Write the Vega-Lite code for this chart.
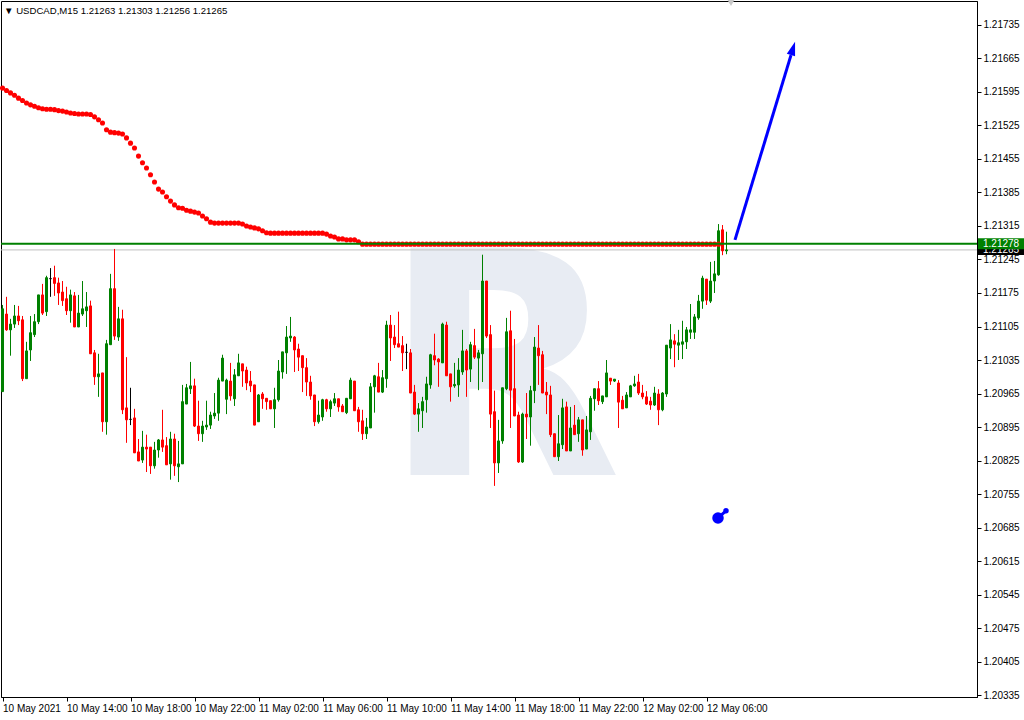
{
"$schema":"https://vega.github.io/schema/vega-lite/v6.json",
"width":976,"height":696,
"autosize":"none",
"padding":{"left":1,"top":1,"right":47,"bottom":23},
"background":"white",
"title":{"text":"▼ USDCAD,M15  1.21263 1.21303 1.21256 1.21265","anchor":"start","frame":"group","offset":-24,"baseline":"alphabetic","font":"Liberation Sans","fontSize":9.6,"fontWeight":"normal","color":"black","dx":3},
"config":{"view":{"stroke":"black","strokeWidth":1},"axis":{"grid":false,"domainColor":"black","tickColor":"black","labelColor":"black","labelFont":"Liberation Sans","labelFontSize":10,"title":null,"tickSize":4,"labelPadding":2,"labelOverlap":false,"labelFlush":false}},
"datasets":{
"candles":[
{"t":"2021-05-10T10:00Z","o":1.20969,"h":1.2115,"l":1.20969,"c":1.21142,"s":1.21603},
{"t":"2021-05-10T10:15Z","o":1.21131,"h":1.21167,"l":1.21096,"c":1.21098,"s":1.21598},
{"t":"2021-05-10T10:30Z","o":1.21098,"h":1.21121,"l":1.21044,"c":1.2111,"s":1.21593},
{"t":"2021-05-10T10:45Z","o":1.2111,"h":1.2115,"l":1.21102,"c":1.21127,"s":1.21588},
{"t":"2021-05-10T11:00Z","o":1.21127,"h":1.21148,"l":1.21108,"c":1.21117,"s":1.21582},
{"t":"2021-05-10T11:15Z","o":1.21119,"h":1.21127,"l":1.20991,"c":1.20996,"s":1.21577},
{"t":"2021-05-10T11:30Z","o":1.20996,"h":1.21073,"l":1.20996,"c":1.21054,"s":1.21572},
{"t":"2021-05-10T11:45Z","o":1.21056,"h":1.21127,"l":1.21033,"c":1.21092,"s":1.21568},
{"t":"2021-05-10T12:00Z","o":1.21088,"h":1.21131,"l":1.21083,"c":1.21115,"s":1.21565},
{"t":"2021-05-10T12:15Z","o":1.21115,"h":1.21171,"l":1.2111,"c":1.21171,"s":1.21562},
{"t":"2021-05-10T12:30Z","o":1.21171,"h":1.21194,"l":1.21129,"c":1.21133,"s":1.2156},
{"t":"2021-05-10T12:45Z","o":1.21136,"h":1.21211,"l":1.21127,"c":1.21207,"s":1.21559},
{"t":"2021-05-10T13:00Z","o":1.21205,"h":1.21227,"l":1.21167,"c":1.21205,"s":1.21559},
{"t":"2021-05-10T13:15Z","o":1.21207,"h":1.21232,"l":1.21169,"c":1.21195,"s":1.21558},
{"t":"2021-05-10T13:30Z","o":1.21196,"h":1.21207,"l":1.2115,"c":1.21175,"s":1.21556},
{"t":"2021-05-10T13:45Z","o":1.21177,"h":1.212,"l":1.21148,"c":1.21159,"s":1.21555},
{"t":"2021-05-10T14:00Z","o":1.21163,"h":1.21188,"l":1.21129,"c":1.21138,"s":1.21553},
{"t":"2021-05-10T14:15Z","o":1.21138,"h":1.21182,"l":1.21113,"c":1.21171,"s":1.21551},
{"t":"2021-05-10T14:30Z","o":1.21169,"h":1.21177,"l":1.21104,"c":1.21104,"s":1.2155},
{"t":"2021-05-10T14:45Z","o":1.21104,"h":1.21171,"l":1.21104,"c":1.21133,"s":1.21549},
{"t":"2021-05-10T15:00Z","o":1.21131,"h":1.212,"l":1.21127,"c":1.21142,"s":1.21549},
{"t":"2021-05-10T15:15Z","o":1.21138,"h":1.21177,"l":1.21104,"c":1.21146,"s":1.21549},
{"t":"2021-05-10T15:30Z","o":1.21148,"h":1.21159,"l":1.21048,"c":1.21048,"s":1.21548},
{"t":"2021-05-10T15:45Z","o":1.2105,"h":1.21056,"l":1.20983,"c":1.21,"s":1.21543},
{"t":"2021-05-10T16:00Z","o":1.21,"h":1.21048,"l":1.20958,"c":1.21006,"s":1.21537},
{"t":"2021-05-10T16:15Z","o":1.21008,"h":1.21008,"l":1.20885,"c":1.20906,"s":1.2153},
{"t":"2021-05-10T16:30Z","o":1.20906,"h":1.21077,"l":1.20879,"c":1.21069,"s":1.21516},
{"t":"2021-05-10T16:45Z","o":1.21067,"h":1.21215,"l":1.21067,"c":1.21184,"s":1.21511},
{"t":"2021-05-10T17:00Z","o":1.21184,"h":1.21267,"l":1.21077,"c":1.21085,"s":1.2151},
{"t":"2021-05-10T17:15Z","o":1.21083,"h":1.21146,"l":1.21075,"c":1.21121,"s":1.21509},
{"t":"2021-05-10T17:30Z","o":1.21121,"h":1.2114,"l":1.20922,"c":1.20931,"s":1.21507},
{"t":"2021-05-10T17:45Z","o":1.20935,"h":1.21041,"l":1.20862,"c":1.2091,"s":1.21499},
{"t":"2021-05-10T18:00Z","o":1.20911,"h":1.20977,"l":1.20899,"c":1.20911,"s":1.21488},
{"t":"2021-05-10T18:15Z","o":1.20914,"h":1.20933,"l":1.20841,"c":1.20841,"s":1.21478},
{"t":"2021-05-10T18:30Z","o":1.20843,"h":1.2087,"l":1.20824,"c":1.20824,"s":1.21461},
{"t":"2021-05-10T18:45Z","o":1.20826,"h":1.20887,"l":1.2082,"c":1.20853,"s":1.21447},
{"t":"2021-05-10T19:00Z","o":1.20853,"h":1.20879,"l":1.20801,"c":1.20849,"s":1.21436},
{"t":"2021-05-10T19:15Z","o":1.20853,"h":1.20853,"l":1.20797,"c":1.20814,"s":1.21422},
{"t":"2021-05-10T19:30Z","o":1.20814,"h":1.20864,"l":1.20808,"c":1.20847,"s":1.21407},
{"t":"2021-05-10T19:45Z","o":1.20847,"h":1.2087,"l":1.20831,"c":1.20868,"s":1.21392},
{"t":"2021-05-10T20:00Z","o":1.20868,"h":1.20931,"l":1.20843,"c":1.20853,"s":1.21386},
{"t":"2021-05-10T20:15Z","o":1.20856,"h":1.20874,"l":1.20816,"c":1.20816,"s":1.21376},
{"t":"2021-05-10T20:30Z","o":1.20818,"h":1.20885,"l":1.20785,"c":1.2087,"s":1.21367},
{"t":"2021-05-10T20:45Z","o":1.2087,"h":1.20881,"l":1.20793,"c":1.20814,"s":1.21359},
{"t":"2021-05-10T21:00Z","o":1.20812,"h":1.20866,"l":1.2078,"c":1.20818,"s":1.21353},
{"t":"2021-05-10T21:15Z","o":1.20818,"h":1.20983,"l":1.20818,"c":1.20948,"s":1.21352},
{"t":"2021-05-10T21:30Z","o":1.20943,"h":1.20985,"l":1.20943,"c":1.20977,"s":1.21348},
{"t":"2021-05-10T21:45Z","o":1.20975,"h":1.21031,"l":1.20964,"c":1.20981,"s":1.21346},
{"t":"2021-05-10T22:00Z","o":1.20981,"h":1.20996,"l":1.20895,"c":1.20897,"s":1.21344},
{"t":"2021-05-10T22:15Z","o":1.20897,"h":1.2095,"l":1.20866,"c":1.20881,"s":1.21342},
{"t":"2021-05-10T22:30Z","o":1.20881,"h":1.20908,"l":1.20864,"c":1.20897,"s":1.21336},
{"t":"2021-05-10T22:45Z","o":1.20895,"h":1.2095,"l":1.20889,"c":1.20899,"s":1.2133},
{"t":"2021-05-10T23:00Z","o":1.20899,"h":1.20927,"l":1.20891,"c":1.2092,"s":1.21323},
{"t":"2021-05-10T23:15Z","o":1.20918,"h":1.20966,"l":1.20912,"c":1.20924,"s":1.21321},
{"t":"2021-05-10T23:30Z","o":1.20924,"h":1.20998,"l":1.20908,"c":1.20993,"s":1.21321},
{"t":"2021-05-10T23:45Z","o":1.20991,"h":1.21046,"l":1.20991,"c":1.21039,"s":1.21321},
{"t":"2021-05-11T00:00Z","o":1.20953,"h":1.20996,"l":1.20922,"c":1.20993,"s":1.21321},
{"t":"2021-05-11T00:15Z","o":1.20991,"h":1.21029,"l":1.2095,"c":1.2096,"s":1.21321},
{"t":"2021-05-11T00:30Z","o":1.20954,"h":1.21016,"l":1.20939,"c":1.21004,"s":1.21321},
{"t":"2021-05-11T00:45Z","o":1.21002,"h":1.21048,"l":1.21002,"c":1.21029,"s":1.21321},
{"t":"2021-05-11T01:00Z","o":1.21027,"h":1.21027,"l":1.20979,"c":1.21012,"s":1.21319},
{"t":"2021-05-11T01:15Z","o":1.21014,"h":1.21021,"l":1.20972,"c":1.20987,"s":1.21315},
{"t":"2021-05-11T01:30Z","o":1.20991,"h":1.21012,"l":1.20968,"c":1.20981,"s":1.21313},
{"t":"2021-05-11T01:45Z","o":1.20983,"h":1.20983,"l":1.20899,"c":1.20899,"s":1.21311},
{"t":"2021-05-11T02:00Z","o":1.20906,"h":1.20964,"l":1.20906,"c":1.20962,"s":1.21309},
{"t":"2021-05-11T02:15Z","o":1.20964,"h":1.20968,"l":1.20933,"c":1.20954,"s":1.21305},
{"t":"2021-05-11T02:30Z","o":1.20955,"h":1.20955,"l":1.20931,"c":1.20948,"s":1.21301},
{"t":"2021-05-11T02:45Z","o":1.2095,"h":1.2095,"l":1.20933,"c":1.20933,"s":1.213},
{"t":"2021-05-11T03:00Z","o":1.20933,"h":1.20977,"l":1.20893,"c":1.20952,"s":1.213},
{"t":"2021-05-11T03:15Z","o":1.20952,"h":1.21035,"l":1.20948,"c":1.21012,"s":1.213},
{"t":"2021-05-11T03:30Z","o":1.2101,"h":1.21052,"l":1.20996,"c":1.21052,"s":1.213},
{"t":"2021-05-11T03:45Z","o":1.2105,"h":1.21106,"l":1.21006,"c":1.21083,"s":1.213},
{"t":"2021-05-11T04:00Z","o":1.21081,"h":1.21125,"l":1.21073,"c":1.21085,"s":1.213},
{"t":"2021-05-11T04:15Z","o":1.21083,"h":1.21085,"l":1.2101,"c":1.21056,"s":1.213},
{"t":"2021-05-11T04:30Z","o":1.21058,"h":1.21069,"l":1.21012,"c":1.21041,"s":1.213},
{"t":"2021-05-11T04:45Z","o":1.21044,"h":1.21044,"l":1.20968,"c":1.21019,"s":1.213},
{"t":"2021-05-11T05:00Z","o":1.21019,"h":1.21039,"l":1.2096,"c":1.20989,"s":1.213},
{"t":"2021-05-11T05:15Z","o":1.20989,"h":1.21002,"l":1.20952,"c":1.2096,"s":1.213},
{"t":"2021-05-11T05:30Z","o":1.20962,"h":1.20962,"l":1.20897,"c":1.20906,"s":1.213},
{"t":"2021-05-11T05:45Z","o":1.20906,"h":1.2095,"l":1.20902,"c":1.2092,"s":1.213},
{"t":"2021-05-11T06:00Z","o":1.20916,"h":1.20954,"l":1.20908,"c":1.20952,"s":1.213},
{"t":"2021-05-11T06:15Z","o":1.20952,"h":1.20954,"l":1.20927,"c":1.20933,"s":1.21298},
{"t":"2021-05-11T06:30Z","o":1.20933,"h":1.20952,"l":1.20916,"c":1.20948,"s":1.21294},
{"t":"2021-05-11T06:45Z","o":1.20945,"h":1.20966,"l":1.20939,"c":1.20954,"s":1.21292},
{"t":"2021-05-11T07:00Z","o":1.20954,"h":1.20954,"l":1.20927,"c":1.20937,"s":1.21288},
{"t":"2021-05-11T07:15Z","o":1.20939,"h":1.20943,"l":1.20927,"c":1.20927,"s":1.21288},
{"t":"2021-05-11T07:30Z","o":1.20925,"h":1.20955,"l":1.20922,"c":1.20955,"s":1.21286},
{"t":"2021-05-11T07:45Z","o":1.20954,"h":1.20998,"l":1.20954,"c":1.20993,"s":1.21286},
{"t":"2021-05-11T08:00Z","o":1.20991,"h":1.20991,"l":1.20929,"c":1.20929,"s":1.21286},
{"t":"2021-05-11T08:15Z","o":1.20931,"h":1.20937,"l":1.20885,"c":1.20906,"s":1.21282},
{"t":"2021-05-11T08:30Z","o":1.20908,"h":1.20931,"l":1.20868,"c":1.20881,"s":1.21277},
{"t":"2021-05-11T08:45Z","o":1.20881,"h":1.20914,"l":1.2087,"c":1.20895,"s":1.21277},
{"t":"2021-05-11T09:00Z","o":1.20893,"h":1.20987,"l":1.20893,"c":1.20979,"s":1.21277},
{"t":"2021-05-11T09:15Z","o":1.20979,"h":1.21004,"l":1.20925,"c":1.21002,"s":1.21277},
{"t":"2021-05-11T09:30Z","o":1.21,"h":1.21029,"l":1.20968,"c":1.20968,"s":1.21277},
{"t":"2021-05-11T09:45Z","o":1.20968,"h":1.21014,"l":1.20966,"c":1.20998,"s":1.21277},
{"t":"2021-05-11T10:00Z","o":1.20996,"h":1.21117,"l":1.20977,"c":1.21108,"s":1.21277},
{"t":"2021-05-11T10:15Z","o":1.21108,"h":1.21129,"l":1.21033,"c":1.21081,"s":1.21277},
{"t":"2021-05-11T10:30Z","o":1.21083,"h":1.21108,"l":1.2106,"c":1.21067,"s":1.21277},
{"t":"2021-05-11T10:45Z","o":1.21069,"h":1.21136,"l":1.21062,"c":1.21062,"s":1.21277},
{"t":"2021-05-11T11:00Z","o":1.21065,"h":1.21085,"l":1.21012,"c":1.2105,"s":1.21277},
{"t":"2021-05-11T11:15Z","o":1.21051,"h":1.21069,"l":1.21016,"c":1.21051,"s":1.21277},
{"t":"2021-05-11T11:30Z","o":1.2105,"h":1.21058,"l":1.20966,"c":1.20966,"s":1.21277},
{"t":"2021-05-11T11:45Z","o":1.20968,"h":1.20983,"l":1.2092,"c":1.20922,"s":1.21277},
{"t":"2021-05-11T12:00Z","o":1.20922,"h":1.20945,"l":1.20885,"c":1.20933,"s":1.21277},
{"t":"2021-05-11T12:15Z","o":1.20929,"h":1.20958,"l":1.20893,"c":1.20948,"s":1.21277},
{"t":"2021-05-11T12:30Z","o":1.20952,"h":1.21,"l":1.20925,"c":1.20985,"s":1.21277},
{"t":"2021-05-11T12:45Z","o":1.20983,"h":1.21048,"l":1.20975,"c":1.21046,"s":1.21277},
{"t":"2021-05-11T13:00Z","o":1.21044,"h":1.2109,"l":1.21024,"c":1.21035,"s":1.21277},
{"t":"2021-05-11T13:15Z","o":1.21037,"h":1.21039,"l":1.20979,"c":1.21031,"s":1.21277},
{"t":"2021-05-11T13:30Z","o":1.21029,"h":1.21113,"l":1.21029,"c":1.2111,"s":1.21277},
{"t":"2021-05-11T13:45Z","o":1.21108,"h":1.21115,"l":1.21002,"c":1.21002,"s":1.21277},
{"t":"2021-05-11T14:00Z","o":1.21006,"h":1.21006,"l":1.20948,"c":1.20979,"s":1.21277},
{"t":"2021-05-11T14:15Z","o":1.20981,"h":1.21029,"l":1.20977,"c":1.20984,"s":1.21277},
{"t":"2021-05-11T14:30Z","o":1.20983,"h":1.21039,"l":1.20958,"c":1.21014,"s":1.21277},
{"t":"2021-05-11T14:45Z","o":1.2101,"h":1.21098,"l":1.21004,"c":1.21054,"s":1.21277},
{"t":"2021-05-11T15:00Z","o":1.21054,"h":1.21058,"l":1.20958,"c":1.21014,"s":1.21277},
{"t":"2021-05-11T15:15Z","o":1.21016,"h":1.21073,"l":1.20989,"c":1.21067,"s":1.21277},
{"t":"2021-05-11T15:30Z","o":1.21065,"h":1.211,"l":1.21037,"c":1.21041,"s":1.21277},
{"t":"2021-05-11T15:45Z","o":1.21039,"h":1.21056,"l":1.20972,"c":1.2105,"s":1.21277},
{"t":"2021-05-11T16:00Z","o":1.21048,"h":1.21255,"l":1.20989,"c":1.212,"s":1.21277},
{"t":"2021-05-11T16:15Z","o":1.212,"h":1.212,"l":1.21081,"c":1.21085,"s":1.21277},
{"t":"2021-05-11T16:30Z","o":1.21088,"h":1.21108,"l":1.20893,"c":1.20922,"s":1.21277},
{"t":"2021-05-11T16:45Z","o":1.20927,"h":1.20971,"l":1.20772,"c":1.2082,"s":1.21277},
{"t":"2021-05-11T17:00Z","o":1.2082,"h":1.2091,"l":1.20799,"c":1.20866,"s":1.21277},
{"t":"2021-05-11T17:15Z","o":1.20866,"h":1.20977,"l":1.2086,"c":1.20977,"s":1.21277},
{"t":"2021-05-11T17:30Z","o":1.20975,"h":1.21123,"l":1.20972,"c":1.21094,"s":1.21277},
{"t":"2021-05-11T17:45Z","o":1.21096,"h":1.21138,"l":1.20893,"c":1.20972,"s":1.21277},
{"t":"2021-05-11T18:00Z","o":1.20975,"h":1.21079,"l":1.20918,"c":1.20918,"s":1.21277},
{"t":"2021-05-11T18:15Z","o":1.2092,"h":1.20927,"l":1.2082,"c":1.20822,"s":1.21277},
{"t":"2021-05-11T18:30Z","o":1.20822,"h":1.20925,"l":1.2082,"c":1.20922,"s":1.21277},
{"t":"2021-05-11T18:45Z","o":1.20922,"h":1.20966,"l":1.2087,"c":1.20916,"s":1.21277},
{"t":"2021-05-11T19:00Z","o":1.20916,"h":1.20981,"l":1.20856,"c":1.20971,"s":1.21277},
{"t":"2021-05-11T19:15Z","o":1.20971,"h":1.21083,"l":1.20945,"c":1.21062,"s":1.21277},
{"t":"2021-05-11T19:30Z","o":1.2106,"h":1.21108,"l":1.20983,"c":1.21044,"s":1.21277},
{"t":"2021-05-11T19:45Z","o":1.21046,"h":1.21054,"l":1.20966,"c":1.20966,"s":1.21277},
{"t":"2021-05-11T20:00Z","o":1.20968,"h":1.20989,"l":1.20922,"c":1.20962,"s":1.21277},
{"t":"2021-05-11T20:15Z","o":1.20962,"h":1.20981,"l":1.20874,"c":1.20879,"s":1.21277},
{"t":"2021-05-11T20:30Z","o":1.20881,"h":1.20881,"l":1.20833,"c":1.20833,"s":1.21277},
{"t":"2021-05-11T20:45Z","o":1.20833,"h":1.2092,"l":1.20824,"c":1.2086,"s":1.21277},
{"t":"2021-05-11T21:00Z","o":1.20858,"h":1.20954,"l":1.20849,"c":1.20935,"s":1.21277},
{"t":"2021-05-11T21:15Z","o":1.20937,"h":1.20948,"l":1.20845,"c":1.20845,"s":1.21277},
{"t":"2021-05-11T21:30Z","o":1.20845,"h":1.20937,"l":1.20845,"c":1.20893,"s":1.21277},
{"t":"2021-05-11T21:45Z","o":1.20899,"h":1.20941,"l":1.20879,"c":1.20879,"s":1.21277},
{"t":"2021-05-11T22:00Z","o":1.20881,"h":1.20916,"l":1.20864,"c":1.2091,"s":1.21277},
{"t":"2021-05-11T22:15Z","o":1.2091,"h":1.2091,"l":1.20835,"c":1.20847,"s":1.21277},
{"t":"2021-05-11T22:30Z","o":1.20849,"h":1.20918,"l":1.20849,"c":1.20889,"s":1.21277},
{"t":"2021-05-11T22:45Z","o":1.20885,"h":1.2096,"l":1.20868,"c":1.20955,"s":1.21277},
{"t":"2021-05-11T23:00Z","o":1.20954,"h":1.20975,"l":1.20929,"c":1.20975,"s":1.21277},
{"t":"2021-05-11T23:15Z","o":1.20975,"h":1.20991,"l":1.20941,"c":1.2095,"s":1.21277},
{"t":"2021-05-11T23:30Z","o":1.20948,"h":1.2096,"l":1.20943,"c":1.2096,"s":1.21277},
{"t":"2021-05-11T23:45Z","o":1.20958,"h":1.21035,"l":1.20958,"c":1.21008,"s":1.21277},
{"t":"2021-05-12T00:00Z","o":1.20997,"h":1.20997,"l":1.20983,"c":1.20991,"s":1.21277},
{"t":"2021-05-12T00:15Z","o":1.20991,"h":1.20995,"l":1.20989,"c":1.20995,"s":1.21277},
{"t":"2021-05-12T00:30Z","o":1.20987,"h":1.20993,"l":1.20893,"c":1.20947,"s":1.21277},
{"t":"2021-05-12T00:45Z","o":1.20951,"h":1.2096,"l":1.20933,"c":1.20933,"s":1.21277},
{"t":"2021-05-12T01:00Z","o":1.20935,"h":1.20968,"l":1.20935,"c":1.20962,"s":1.21277},
{"t":"2021-05-12T01:15Z","o":1.20958,"h":1.20983,"l":1.20958,"c":1.20981,"s":1.21277},
{"t":"2021-05-12T01:30Z","o":1.20981,"h":1.21002,"l":1.20979,"c":1.20985,"s":1.21277},
{"t":"2021-05-12T01:45Z","o":1.20989,"h":1.21006,"l":1.20962,"c":1.20966,"s":1.21277},
{"t":"2021-05-12T02:00Z","o":1.20966,"h":1.20983,"l":1.20953,"c":1.20958,"s":1.21277},
{"t":"2021-05-12T02:15Z","o":1.20958,"h":1.2097,"l":1.20941,"c":1.20943,"s":1.21277},
{"t":"2021-05-12T02:30Z","o":1.20949,"h":1.20958,"l":1.20931,"c":1.20941,"s":1.21277},
{"t":"2021-05-12T02:45Z","o":1.20941,"h":1.20979,"l":1.20939,"c":1.20966,"s":1.21277},
{"t":"2021-05-12T03:00Z","o":1.20964,"h":1.20974,"l":1.20899,"c":1.20931,"s":1.21277},
{"t":"2021-05-12T03:15Z","o":1.20931,"h":1.20968,"l":1.20928,"c":1.20966,"s":1.21277},
{"t":"2021-05-12T03:30Z","o":1.20964,"h":1.21066,"l":1.20958,"c":1.21066,"s":1.21277},
{"t":"2021-05-12T03:45Z","o":1.2106,"h":1.2111,"l":1.21037,"c":1.21077,"s":1.21277},
{"t":"2021-05-12T04:00Z","o":1.21075,"h":1.21089,"l":1.2102,"c":1.21068,"s":1.21277},
{"t":"2021-05-12T04:15Z","o":1.21066,"h":1.21098,"l":1.21035,"c":1.21071,"s":1.21277},
{"t":"2021-05-12T04:30Z","o":1.21068,"h":1.21117,"l":1.21037,"c":1.21073,"s":1.21277},
{"t":"2021-05-12T04:45Z","o":1.21073,"h":1.21104,"l":1.21058,"c":1.21098,"s":1.21277},
{"t":"2021-05-12T05:00Z","o":1.21093,"h":1.21152,"l":1.21079,"c":1.21098,"s":1.21277},
{"t":"2021-05-12T05:15Z","o":1.21093,"h":1.21131,"l":1.21079,"c":1.21125,"s":1.21277},
{"t":"2021-05-12T05:30Z","o":1.21123,"h":1.21171,"l":1.21119,"c":1.21158,"s":1.21277},
{"t":"2021-05-12T05:45Z","o":1.21158,"h":1.21211,"l":1.21142,"c":1.21206,"s":1.21277},
{"t":"2021-05-12T06:00Z","o":1.21204,"h":1.21204,"l":1.2115,"c":1.2116,"s":1.21277},
{"t":"2021-05-12T06:15Z","o":1.21158,"h":1.2124,"l":1.21154,"c":1.212,"s":1.21277},
{"t":"2021-05-12T06:30Z","o":1.212,"h":1.21242,"l":1.21175,"c":1.21215,"s":1.21277},
{"t":"2021-05-12T06:45Z","o":1.21213,"h":1.21319,"l":1.21211,"c":1.21305,"s":1.21277},
{"t":"2021-05-12T07:00Z","o":1.21307,"h":1.21317,"l":1.21254,"c":1.21263},
{"t":"2021-05-12T07:15Z","o":1.21263,"h":1.21303,"l":1.21256,"c":1.21265}
],
"levels":[{"name":"level","p":1.21278},{"name":"bid","p":1.21265}],
"arrow":[{"t":"2021-05-12T07:46:52Z","p":1.21286},{"t":"2021-05-12T11:16:52Z","p":1.21672}],
"head":[{"t":"2021-05-12T11:24:22Z","p":1.21686}],
"marker":[{"part":"big","t":"2021-05-12T06:43:07Z","p":1.20705},{"part":"small","t":"2021-05-12T07:13:07Z","p":1.2072}],
"shift":[{"t":"2021-05-12T07:31:52Z","p":1.21781}],
"logo":[{"label":"R","t":"2021-05-11T17:13:07Z","p":1.20795}]
},
"layer":[
{"data":{"name":"logo"},"mark":{"type":"text","font":"DejaVu Sans","fontWeight":"bold","fontSize":312,"align":"center","baseline":"alphabetic","fill":"#e8ecf3"},
 "encoding":{"x":{"field":"t","type":"temporal"},"y":{"field":"p","type":"quantitative"},"text":{"field":"label"}}},
{"data":{"name":"levels"},"transform":[{"filter":"datum.name == 'bid'"}],"mark":{"type":"rule","color":"#c0c0c0","strokeWidth":1},
 "encoding":{"y":{"field":"p","type":"quantitative"}}},
{"data":{"name":"candles"},"mark":{"type":"rule","strokeWidth":1},
 "encoding":{
  "x":{"field":"t","type":"temporal","scale":{"type":"utc","nice":false,"padding":0,"domain":[{"year":2021,"month":5,"date":10,"hours":9,"minutes":54,"seconds":22,"milliseconds":500,"utc":true},{"year":2021,"month":5,"date":12,"hours":22,"minutes":54,"seconds":22,"milliseconds":500,"utc":true}]},
   "axis":{"orient":"bottom","labelAlign":"left","labelBaseline":"top","labelOverlap":false,"tickCount":40,"labelExpr":"datum.index == 0 ? '10 May 2021' : utcFormat(datum.value, '%d %b %H:%M')",
    "values":[{"year":2021,"month":5,"date":10,"hours":10,"utc":true},{"year":2021,"month":5,"date":10,"hours":14,"utc":true},{"year":2021,"month":5,"date":10,"hours":18,"utc":true},{"year":2021,"month":5,"date":10,"hours":22,"utc":true},{"year":2021,"month":5,"date":11,"hours":2,"utc":true},{"year":2021,"month":5,"date":11,"hours":6,"utc":true},{"year":2021,"month":5,"date":11,"hours":10,"utc":true},{"year":2021,"month":5,"date":11,"hours":14,"utc":true},{"year":2021,"month":5,"date":11,"hours":18,"utc":true},{"year":2021,"month":5,"date":11,"hours":22,"utc":true},{"year":2021,"month":5,"date":12,"hours":2,"utc":true},{"year":2021,"month":5,"date":12,"hours":6,"utc":true}]}},
  "y":{"field":"l","type":"quantitative","scale":{"domain":[1.20331,1.21785],"nice":false,"zero":false,"padding":0},
   "axis":{"orient":"right","format":".5f","labelOverlap":false,"tickCount":40,"values":[1.20335,1.20405,1.20475,1.20545,1.20615,1.20685,1.20755,1.20825,1.20895,1.20965,1.21035,1.21105,1.21175,1.21245,1.21315,1.21385,1.21455,1.21525,1.21595,1.21665,1.21735]}},
  "y2":{"field":"h"},
  "color":{"condition":[{"test":"datum.c > datum.o","value":"#008000"},{"test":"datum.c < datum.o","value":"#ff0000"}],"value":"#000000"}}},
{"data":{"name":"candles"},"mark":{"type":"bar","width":2,"strokeWidth":1},
 "encoding":{
  "x":{"field":"t","type":"temporal"},
  "y":{"field":"o","type":"quantitative"},
  "y2":{"field":"c"},
  "fill":{"condition":[{"test":"datum.c > datum.o","value":"#008000"},{"test":"datum.c < datum.o","value":"#ff0000"}],"value":"#000000"},
  "stroke":{"condition":[{"test":"datum.c > datum.o","value":"#008000"},{"test":"datum.c < datum.o","value":"#ff0000"}],"value":"#000000"}}},
{"data":{"name":"candles"},"mark":{"type":"point","filled":true,"opacity":1,"size":26,"color":"#ff0000"},
 "encoding":{"x":{"field":"t","type":"temporal"},"y":{"field":"s","type":"quantitative"}}},
{"data":{"name":"levels"},"transform":[{"filter":"datum.name == 'level'"}],"mark":{"type":"rule","color":"#008000","strokeWidth":2},
 "encoding":{"y":{"field":"p","type":"quantitative"}}},
{"data":{"name":"shift"},"mark":{"type":"point","filled":true,"opacity":1,"color":"#c8c8c8","shape":"triangle-down","size":50},
 "encoding":{"x":{"field":"t","type":"temporal"},"y":{"field":"p","type":"quantitative"}}},
{"data":{"name":"arrow"},"mark":{"type":"line","color":"#0000ff","strokeWidth":3,"strokeCap":"butt"},
 "encoding":{"x":{"field":"t","type":"temporal"},"y":{"field":"p","type":"quantitative"}}},
{"data":{"name":"head"},"mark":{"type":"point","filled":true,"opacity":1,"color":"#0000ff","shape":"M0,-1L0.62,1L-0.62,1Z","size":196,"angle":17},
 "encoding":{"x":{"field":"t","type":"temporal"},"y":{"field":"p","type":"quantitative"}}},
{"data":{"name":"marker"},"mark":{"type":"line","color":"#0000ff","strokeWidth":3},
 "encoding":{"x":{"field":"t","type":"temporal"},"y":{"field":"p","type":"quantitative"}}},
{"data":{"name":"marker"},"transform":[{"filter":"datum.part == 'big'"}],"mark":{"type":"point","filled":true,"opacity":1,"color":"#0000ff","shape":"circle","size":133},
 "encoding":{"x":{"field":"t","type":"temporal"},"y":{"field":"p","type":"quantitative"}}},
{"data":{"name":"marker"},"transform":[{"filter":"datum.part == 'small'"}],"mark":{"type":"point","filled":true,"opacity":1,"color":"#0000ff","shape":"circle","size":30},
 "encoding":{"x":{"field":"t","type":"temporal"},"y":{"field":"p","type":"quantitative"}}},
{"data":{"name":"levels"},"transform":[{"filter":"datum.name == 'bid'"}],"mark":{"type":"bar","color":"#000000","size":10},
 "encoding":{"x":{"datum":{"year":2021,"month":5,"date":12,"hours":22,"minutes":58,"seconds":7,"utc":true},"type":"temporal"},"x2":{"datum":{"year":2021,"month":5,"date":13,"hours":1,"minutes":50,"seconds":37,"utc":true}},"y":{"field":"p","type":"quantitative"}}},
{"data":{"name":"levels"},"transform":[{"filter":"datum.name == 'bid'"}],"mark":{"type":"text","color":"#ffffff","font":"Liberation Sans","fontSize":10,"align":"left","baseline":"middle"},
 "encoding":{"x":{"datum":{"year":2021,"month":5,"date":12,"hours":23,"minutes":16,"seconds":52,"utc":true},"type":"temporal"},"y":{"field":"p","type":"quantitative"},"text":{"field":"p","format":".5f"}}},
{"data":{"name":"levels"},"transform":[{"filter":"datum.name == 'level'"}],"mark":{"type":"bar","color":"#008000","size":11},
 "encoding":{"x":{"datum":{"year":2021,"month":5,"date":12,"hours":22,"minutes":58,"seconds":7,"utc":true},"type":"temporal"},"x2":{"datum":{"year":2021,"month":5,"date":13,"hours":1,"minutes":50,"seconds":37,"utc":true}},"y":{"field":"p","type":"quantitative"}}},
{"data":{"name":"levels"},"transform":[{"filter":"datum.name == 'level'"}],"mark":{"type":"text","color":"#ffffff","font":"Liberation Sans","fontSize":10,"align":"left","baseline":"middle"},
 "encoding":{"x":{"datum":{"year":2021,"month":5,"date":12,"hours":23,"minutes":16,"seconds":52,"utc":true},"type":"temporal"},"y":{"field":"p","type":"quantitative"},"text":{"field":"p","format":".5f"}}}
]
}
